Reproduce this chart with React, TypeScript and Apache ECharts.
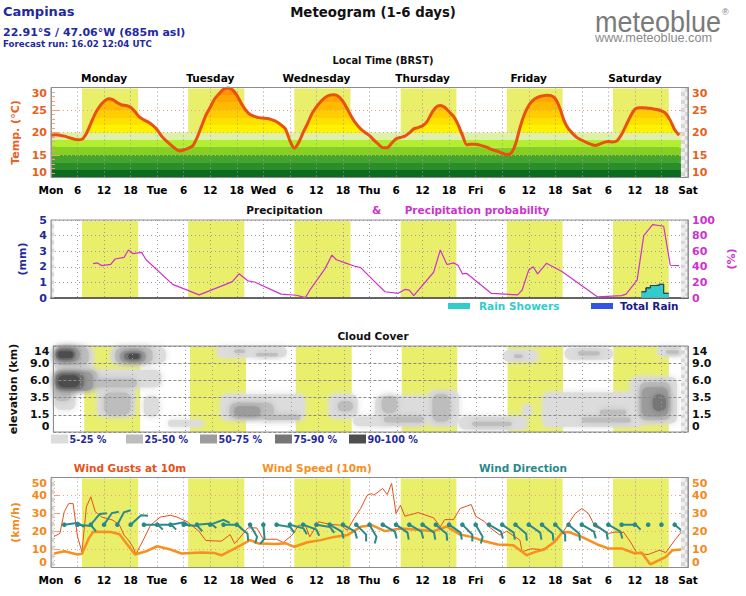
import React, { useEffect, useRef } from "react";
import * as echarts from "echarts";

// ---------------------------------------------------------------------------
// Time axis (hours since Monday 00:00 local time)
// ---------------------------------------------------------------------------
const DAY_TICKS = ["Mon", "Tue", "Wed", "Thu", "Fri", "Sat", "Sat"];
const DAY_NAMES = ["Monday", "Tuesday", "Wednesday", "Thursday", "Friday", "Saturday"];
const SUNRISE = [7.0, 7.0, 7.0, 7.05, 7.05, 7.05];
const SUNSET = [19.7, 19.7, 19.7, 19.65, 19.65, 19.65];
const NO_FORECAST_TAIL = [142.4, 144];
const NO_FORECAST_HEAD = [0, 0.7];

// ---------------------------------------------------------------------------
// Temperature (°C), hourly from hour 0
// ---------------------------------------------------------------------------
const TEMP_C = [
  19.4, 19.5, 19.4, 19.2, 18.9, 18.6, 18.4, 18.5, 19.8, 22.0, 24.2, 25.8, 26.9, 27.5, 27.3, 26.6,
  26.1, 26.0, 25.6, 24.6, 23.4, 22.8, 22.3, 21.6, 20.6, 19.2, 18.2, 17.3, 16.5, 15.9, 16.1, 16.5,
  17.0, 18.8, 21.3, 23.8, 25.6, 27.5, 28.6, 29.6, 29.9, 29.5, 28.3, 26.5, 25.0, 24.0, 23.6, 23.3,
  23.2, 23.1, 22.8, 22.4, 21.7, 20.8, 18.2, 16.5, 17.8, 20.0, 22.0, 24.2, 25.7, 26.9, 27.8, 28.3,
  28.4, 28.0, 26.9, 25.2, 23.4, 21.9, 20.8, 20.0, 19.3, 18.3, 17.4, 16.6, 16.6, 17.6, 18.6, 18.9,
  19.2, 19.9, 20.8, 21.1, 21.5, 22.4, 24.2, 25.6, 26.0, 25.6, 24.6, 23.6, 21.8, 19.4, 17.3, 17.4,
  17.4, 17.2, 16.9, 16.5, 16.1, 15.8, 15.4, 15.1, 15.4, 17.4, 21.0, 24.0, 26.0, 27.2, 27.8, 28.1,
  28.3, 28.2, 27.5, 25.5, 22.6, 20.8, 19.7, 18.8, 18.3, 17.8, 17.4, 17.1, 17.4, 17.8, 18.0, 17.9,
  18.2, 19.6, 21.6, 23.6, 25.2, 25.5, 25.5, 25.4, 25.3, 25.1, 24.8, 24.2, 22.7, 20.6, 19.4,
];
const TEMP_BAND_EDGES = [10, 11.67, 13.33, 15, 16.67, 18.33, 20, 21.67, 23.33, 25, 26.67, 28.33, 30];

// ---------------------------------------------------------------------------
// Precipitation
// ---------------------------------------------------------------------------
const PROB_HOURS = [
  9.5, 10.5, 11.5, 13.5, 14.5, 16.5, 17.5, 18.5, 20.5, 21.5, 27.5, 33.5, 39.5, 41, 42.5, 44.5, 46,
  52, 55.5, 57.5, 58.5, 62, 63.5, 64.5, 66.5, 68.5, 70, 73, 75.5, 78.5, 80, 81, 82, 86.5, 88, 89.5,
  91, 92, 93, 94, 99.5, 105.5, 106.5, 108, 109, 110, 112, 115.5, 123.5, 129, 130, 132.5, 134, 136,
  138.5, 140, 142,
];
const PROB_PCT = [
  44, 45, 41.5, 43, 50, 52, 61.5, 57, 58.5, 49, 17.5, 4, 17.5, 21, 31, 22, 20.5,
  5, 3.5, 0.5, 10, 38, 55, 49, 45, 41, 39, 22, 8, 6, 11, 10, 3, 33, 61.5, 43,
  45, 42, 31, 31.5, 6, 4, 10, 36, 40, 31, 44.5, 34, 1.5, 3, 5, 23, 80, 94,
  92, 42, 41.5,
];
const RAIN_HOURS = [133.5, 134.5, 135.5, 136.5, 137.5, 138.5, 139.6];
const SHOWERS_MM = [0.4, 0.65, 0.8, 0.82, 0.88, 0.3, 0.3];
const TOTAL_RAIN_MM = [0.4, 0.65, 0.8, 0.82, 0.88, 0.3, 0.3];

// ---------------------------------------------------------------------------
// Cloud cover: [start h, end h, lower level, upper level, cover class 1..5]
// levels are index positions of 0 / 1.5 / 3.5 / 6 / 9 / 14 km
// ---------------------------------------------------------------------------
const CLOUD_LEVEL_LABELS = ["0", "1.5", "3.5", "6.0", "9.0", "14"];
const CLOUD_CLASSES = ["5-25 %", "25-50 %", "50-75 %", "75-90 %", "90-100 %"];
const CLOUD_CELLS: number[][] = [
  [0, 9, 3.6, 5, 1], [0, 24.5, 2.6, 3.6, 1], [0, 5, 1.3, 2.8, 1], [13, 25.5, 4.0, 5, 1],
  [10, 18.5, 0.9, 2.7, 1], [20.5, 24, 0.9, 2.1, 1], [26, 34, 0.3, 0.7, 1], [37, 53, 4.35, 5, 1],
  [38, 57, 0.7, 2.2, 1], [62.5, 69, 0.8, 2.2, 1], [68, 76, 0.35, 0.9, 1], [73, 85, 0.35, 2.1, 1],
  [85, 92, 0.35, 2.4, 1], [92, 107.5, 0.15, 0.9, 1], [102, 110, 4.1, 4.75, 1],
  [106.5, 108.5, 0.9, 1.6, 1], [111, 134, 0.3, 2.3, 1], [116, 127, 4.2, 4.9, 1],
  [131, 141.5, 0.5, 3.2, 1], [137, 143, 4.4, 4.95, 1],
  [0, 8, 3.9, 5, 2], [0, 10, 2.5, 3.6, 2], [0, 4, 1.8, 2.8, 2], [7, 19, 2.6, 3.1, 2],
  [14, 22.5, 4.0, 4.9, 2], [11.5, 17.5, 1.0, 2.3, 2], [41, 43.5, 4.6, 4.8, 2], [46, 51, 4.4, 4.6, 2],
  [40, 50, 0.8, 1.7, 2], [48, 56, 0.7, 1.0, 2], [64.5, 68, 1.2, 1.8, 2], [74.5, 78, 1.1, 2.1, 2],
  [75, 84, 0.55, 0.9, 2], [86, 90, 0.6, 2.2, 2], [95, 104, 0.35, 0.6, 2], [104.5, 106.5, 4.3, 4.5, 2],
  [120, 131, 0.55, 0.85, 2], [124, 130, 1.0, 1.3, 2], [119, 124, 4.45, 4.7, 2],
  [139, 142, 4.55, 4.75, 2], [133, 140, 0.7, 2.9, 2],
  [0.5, 6, 4.1, 4.9, 3], [0.5, 9, 2.4, 3.5, 3], [15, 21, 4.1, 4.7, 3], [41, 47, 0.9, 1.5, 3],
  [133.5, 139.5, 0.9, 2.6, 3],
  [0.5, 5, 4.2, 4.8, 4], [0.5, 7, 2.5, 3.4, 4], [16, 20, 4.2, 4.6, 4], [136, 139, 1.2, 2.2, 4],
  [1, 4.5, 4.3, 4.7, 5], [1, 6, 2.6, 3.3, 5], [17, 19.5, 4.25, 4.55, 5],
];

// ---------------------------------------------------------------------------
// Wind (km/h)
// ---------------------------------------------------------------------------
const GUST_HOURS = [
  0.5, 2, 3, 4, 5, 6, 7, 8, 9, 10, 11.5, 14, 15.5, 16.5, 17.5, 18.5, 19.2, 21, 22.5, 24.7, 27, 28.5,
  30.8, 33.5, 35, 38.5, 40.5, 41.5, 42.5, 44.5, 46.5, 48, 51, 52.5, 54.5, 56, 57.5, 58.5, 60.5, 63,
  65.5, 67, 68.5, 70, 71.5, 72.5, 73, 75, 76, 77, 78, 79, 80, 83, 86.5, 88, 89, 91, 92.5, 95, 96, 98,
  99, 101.5, 103, 106, 106.5, 108.5, 111, 113, 115.5, 117, 118.5, 120, 121.5, 123, 124, 126, 127.5,
  129.5, 131, 132.5, 135, 137.5, 139, 141, 142.5,
];
const GUST_KMH = [
  17, 18.9, 31, 35.5, 35.5, 17, 8.7, 33.7, 39.3, 31, 28, 26.3, 23.5, 18, 15.2, 11.5, 7.4, 16, 23.5, 28, 29, 28,
  25.4, 20, 15, 14.6, 18.3, 13.3, 16, 22, 22, 15.7, 15.7, 13.9, 18, 23.5, 23.5, 17, 25.4, 24,
  23.5, 20.7, 27.2, 32.8, 40.2, 41, 40.2, 43.9, 40.5, 46.7, 30, 34.6, 28.5, 30.5, 27.6, 22.6, 26.6, 26.6, 32.8, 35, 28.5, 25.5,
  22.6, 18, 20.2, 15.2, 8.7, 10.4, 10, 12.4, 18.9, 24.4, 30, 32.8, 30, 22.6, 21.7, 18.9, 19.7,
  19.4, 14.2, 7.8, 7.2, 9.6, 8.3, 15.2, 19.7,
];
const SPEED_HOURS = [
  0.5, 3, 6, 7, 8.5, 9.5, 13.5, 15.5, 17, 19, 21.5, 24, 27, 29.5, 34, 37, 38.5, 41.5, 43, 45, 47, 51,
  53, 55, 58, 61, 64, 67, 70, 72.5, 75.5, 79, 83, 86.5, 89.5, 92.5, 95, 98, 101, 104.5, 106.5, 107.5,
  109.5, 111.5, 114, 115.5, 117, 120, 123.5, 126, 129, 132, 133.5, 135.5, 137, 139, 140.5, 142.5,
];
const SPEED_KMH = [
  7.6, 9, 7.2, 7.6, 16, 19.8, 19.7, 18.5, 13.5, 7.2, 9, 11.8, 10, 7.8, 8.3, 8, 6.8, 10.5, 12.5, 15.2, 13.3, 13,
  13.5, 11.5, 14, 15.2, 17, 18, 22.6, 23.5, 20.2, 21.7, 21, 20.2, 22.8, 18.3, 17, 14.6, 12.8, 12.4, 8.7, 6.8,
  8.7, 10, 14.6, 19.4, 19.7, 17, 12.8, 10.6, 10.6, 7.8, 8.3, 1.7, 3.5, 5.9, 9.6, 10,
];
// direction arrows every 3 h; bearing the arrow points to (deg), null = calm
const WIND_DIR_HOURS = [
  3, 6, 9, 12, 15, 18, 21, 24, 27, 30, 33, 36, 39, 42, 45, 48, 51, 54, 57, 60, 63, 66, 69, 72,
  75, 78, 81, 84, 87, 90, 93, 96, 99, 102, 105, 108, 111, 114, 117, 120, 123, 126, 129, 132, 135, 138, 141,
];
const WIND_DIR_BEARING: (number | null)[] = [
  82, 95, 40, 34, 28, 48, 90, 90, 80, 95, 85, 70, 90, 130, 150, 175, 100, 105, 110, 100, 120, 120, 135, 150,
  120, 125, 120, 125, 130, 125, 135, 150, 120, 125, 130, 125, 130, 135, 130, 120, 125, 120, 90, null, null, null, 130,
];

// ---------------------------------------------------------------------------
// Styling
// ---------------------------------------------------------------------------
const FONT = '"DejaVu Sans", Verdana, sans-serif';
const DAY_YELLOW = "#e9ef6b";
const TEMP_COLORS = [
  "#0d6b20", "#2a8c2a", "#44a42e", "#86d024", "#b4ee32", "#ddf2a8",
  "#fff200", "#ffe100", "#ffcd00", "#ffba00", "#ffa600", "#ff9200", "#ff8000",
];
const TEMP_LINE = "#e8520e";
const TEMP_AXIS = "#e8601c";
const SALMON = "#f0a080";
const NAVY = "#1f2a9c";
const MAGENTA = "#cc33cc";
const CYAN = "#33cccc";
const RAIN_BLUE = "#3552e0";
const CLOUD_COLORS = ["#dcdcdc", "#bdbdbd", "#9c9c9c", "#767676", "#4e4e4e"];
const GUST_COLOR = "#e8501a";
const SPEED_COLOR = "#f7901e";
const WIND_AXIS = "#f28a1c";
const TEAL = "#2a8a8a";
const WIND_ARROW_LEVEL = 23.8;

const GRID_LEFT = 51;
const GRID_WIDTH = 637;
const PANELS = [
  { top: 87.5, height: 90 },
  { top: 220, height: 78 },
  { top: 346, height: 86 },
  { top: 477.5, height: 90 },
];

const boldText = (size: number, color: string) => ({
  color,
  fontWeight: "bold" as const,
  fontSize: size,
  fontFamily: FONT,
});

function timeAxis(gridIndex: number, showLabels: boolean) {
  return {
    type: "value",
    gridIndex,
    min: 0,
    max: 144,
    interval: 6,
    z: 3,
    axisLine: { show: gridIndex === 1, onZero: false, lineStyle: { color: "#000", width: 1.5 } },
    axisTick: { show: false },
    axisLabel: {
      show: showLabels,
      margin: 7,
      formatter: (v: number) => (v % 24 === 0 ? DAY_TICKS[v / 24] : String(v % 24)),
      ...boldText(10.5, "#000"),
    },
    splitLine: { show: true, lineStyle: { color: "#9a9a9a", type: [1, 3] } },
  };
}

function valueAxis(opts: any) {
  const {
    gridIndex, min, max, interval, position, name, color, gap, grid, gridColor, gridType, formatter, ticks, tight,
  } = opts;
  return {
    type: "value",
    gridIndex,
    min,
    max,
    interval,
    position,
    z: 3,
    name: name || "",
    nameLocation: "middle",
    nameGap: gap || 30,
    nameRotate: 90,
    nameTextStyle: boldText(11, color),
    axisLine: { show: true, lineStyle: { color: "#999" } },
    axisTick: ticks
      ? { show: true, inside: true, length: 9, lineStyle: { color: SALMON } }
      : { show: false },
    minorTick: ticks
      ? { show: true, splitNumber: 5, length: 4, lineStyle: { color: SALMON } }
      : { show: false },
    axisLabel: {
      margin: 4,
      formatter,
      showMinLabel: true,
      showMaxLabel: true,
      ...(tight ? {} : { verticalAlignMinLabel: "bottom", verticalAlignMaxLabel: "top" }),
      ...boldText(11, color),
    },
    splitLine: grid
      ? { show: true, lineStyle: { color: gridColor, type: gridType || [1, 3] } }
      : { show: false },
  };
}

// yellow daylight bands
const dayBandItem = (params: any, api: any) => {
  const cs = params.coordSys;
  const x0 = Math.max(cs.x + 1, api.coord([api.value(0), 0])[0]);
  const x1 = Math.min(cs.x + cs.width - 1, api.coord([api.value(1), 0])[0]);
  return {
    type: "rect",
    shape: { x: x0, y: cs.y + 1, width: x1 - x0, height: cs.height - 1 },
    style: { fill: DAY_YELLOW },
  };
};

// grey checker pattern over hours without forecast
const checkerItem = (params: any, api: any) => {
  const cs = params.coordSys;
  const x0 = Math.max(cs.x + 0.5, api.coord([api.value(0), 0])[0]);
  const x1 = Math.min(cs.x + cs.width, api.coord([api.value(1), 0])[0]);
  const s = 4;
  const children: any[] = [];
  let r = 0;
  for (let yy = cs.y + 0.5; yy < cs.y + cs.height; yy += s, r++) {
    let c = 0;
    for (let xx = x0; xx < x1; xx += s, c++) {
      children.push({
        type: "rect",
        shape: { x: xx, y: yy, width: Math.min(s, x1 - xx), height: Math.min(s, cs.y + cs.height - yy) },
        style: { fill: (r + c) % 2 ? "#d6d6d6" : "#f0f0f0" },
      });
    }
  }
  return { type: "group", children };
};

// full-width colour bands of the cooler temperatures
const tempBandItem = (params: any, api: any) => {
  const cs = params.coordSys;
  const yTop = api.coord([0, api.value(1)])[1];
  const yBot = api.coord([0, api.value(0)])[1];
  return {
    type: "rect",
    shape: { x: cs.x + 1, y: yTop, width: cs.width - 2, height: yBot - yTop },
    style: { fill: TEMP_COLORS[api.value(2)] },
  };
};

const cloudItem = (params: any, api: any) => {
  const cs = params.coordSys;
  const p0 = api.coord([api.value(0), api.value(3)]);
  const p1 = api.coord([api.value(1), api.value(2)]);
  const x0 = Math.max(cs.x + 1, p0[0]);
  const x1 = Math.min(cs.x + cs.width - 1, p1[0]);
  const y0 = Math.max(cs.y + 1, p0[1]);
  const y1 = Math.min(cs.y + cs.height - 1, p1[1]);
  const fill = CLOUD_COLORS[api.value(4) - 1];
  return {
    type: "rect",
    shape: { x: x0, y: y0, width: x1 - x0, height: y1 - y0, r: 6 },
    style: { fill, shadowBlur: 7, shadowColor: fill },
  };
};

const windArrowItem = (params: any, api: any) => {
  const h = api.value(0);
  const bearing = api.value(1);
  const p = api.coord([h, WIND_ARROW_LEVEL]);
  const children: any[] = [
    { type: "circle", shape: { cx: p[0], cy: p[1], r: 2.3 }, style: { fill: TEAL } },
  ];
  if (bearing >= 0) {
    const th = ((90 - bearing) * Math.PI) / 180;
    const p1 = [p[0] + 14 * Math.cos(th), p[1] - 14 * Math.sin(th)];
    const th2 = th - Math.PI / 4;
    const p2 = [p1[0] + 7 * Math.cos(th2), p1[1] - 7 * Math.sin(th2)];
    children.push({
      type: "polyline",
      shape: { points: [p, p1, p2] },
      style: { stroke: TEAL, lineWidth: 2, fill: null },
    });
  }
  return { type: "group", children };
};

function buildOption() {
  const dayBands = SUNRISE.map((s, i) => [i * 24 + s, i * 24 + SUNSET[i]]);
  const yIdx = [0, 2, 4, 6];

  const series: any[] = [];
  // 0..3 daylight bands in each panel
  PANELS.forEach((_, g) => {
    series.push({
      type: "custom",
      xAxisIndex: g,
      yAxisIndex: yIdx[g],
      z: 1,
      silent: true,
      renderItem: dayBandItem,
      data: dayBands,
    });
  });
  // 4 cool temperature bands
  series.push({
    type: "custom",
    xAxisIndex: 0,
    yAxisIndex: 0,
    z: 1.5,
    silent: true,
    renderItem: tempBandItem,
    data: TEMP_BAND_EDGES.slice(0, 6).map((lo, i) => [lo, TEMP_BAND_EDGES[i + 1], i]),
  });
  // 5 temperature area coloured by value
  series.push({
    type: "line",
    xAxisIndex: 0,
    yAxisIndex: 0,
    z: 2,
    smooth: 0.25,
    symbol: "none",
    lineStyle: { width: 0 },
    areaStyle: { opacity: 1, origin: "start" },
    data: TEMP_C.map((t, h) => [h, t]),
  });
  // 6 temperature curve
  series.push({
    type: "line",
    xAxisIndex: 0,
    yAxisIndex: 0,
    z: 4,
    smooth: 0.25,
    symbol: "none",
    lineStyle: { width: 3, color: TEMP_LINE },
    data: TEMP_C.map((t, h) => [h, t]),
  });
  // precipitation
  series.push({
    type: "line",
    xAxisIndex: 1,
    yAxisIndex: 2,
    z: 4,
    step: "end",
    symbol: "none",
    lineStyle: { width: 1, color: "#333" },
    areaStyle: { color: RAIN_BLUE, opacity: 1 },
    data: RAIN_HOURS.map((h, i) => [h, TOTAL_RAIN_MM[i]]),
  });
  series.push({
    type: "line",
    xAxisIndex: 1,
    yAxisIndex: 2,
    z: 4,
    step: "end",
    symbol: "none",
    lineStyle: { width: 1, color: "#2a4a4a" },
    areaStyle: { color: CYAN, opacity: 1 },
    data: RAIN_HOURS.map((h, i) => [h, SHOWERS_MM[i]]),
  });
  series.push({
    type: "line",
    xAxisIndex: 1,
    yAxisIndex: 3,
    z: 4,
    symbol: "none",
    lineStyle: { width: 1.2, color: MAGENTA },
    data: PROB_HOURS.map((h, i) => [h, PROB_PCT[i]]),
  });
  // cloud cover
  series.push({
    type: "custom",
    xAxisIndex: 2,
    yAxisIndex: 4,
    z: 2,
    silent: true,
    renderItem: cloudItem,
    data: CLOUD_CELLS.slice().sort((a, b) => a[4] - b[4]),
  });
  // wind
  series.push({
    type: "line",
    xAxisIndex: 3,
    yAxisIndex: 6,
    z: 4,
    symbol: "none",
    lineStyle: { width: 1, color: GUST_COLOR },
    data: GUST_HOURS.map((h, i) => [h, GUST_KMH[i]]),
  });
  series.push({
    type: "line",
    xAxisIndex: 3,
    yAxisIndex: 6,
    z: 4,
    symbol: "none",
    lineStyle: { width: 2.5, color: SPEED_COLOR },
    data: SPEED_HOURS.map((h, i) => [h, SPEED_KMH[i]]),
  });
  series.push({
    type: "custom",
    xAxisIndex: 3,
    yAxisIndex: 6,
    z: 5,
    silent: true,
    renderItem: windArrowItem,
    data: WIND_DIR_HOURS.map((h, i) => [h, WIND_DIR_BEARING[i] ?? -1]),
  });
  // hours without forecast
  PANELS.forEach((_, g) => {
    const spans = g === 1 || g === 3 ? [NO_FORECAST_HEAD, NO_FORECAST_TAIL] : [NO_FORECAST_TAIL];
    series.push({
      type: "custom",
      xAxisIndex: g,
      yAxisIndex: yIdx[g],
      z: 6,
      silent: true,
      renderItem: checkerItem,
      data: spans,
    });
  });

  const visualPieces: any[] = [{ lt: TEMP_BAND_EDGES[0], color: TEMP_COLORS[0] }];
  for (let i = 0; i < TEMP_BAND_EDGES.length - 1; i++) {
    visualPieces.push({ gte: TEMP_BAND_EDGES[i], lt: TEMP_BAND_EDGES[i + 1], color: TEMP_COLORS[i] });
  }
  visualPieces.push({ gte: TEMP_BAND_EDGES[TEMP_BAND_EDGES.length - 1], color: TEMP_COLORS[12] });

  const text = (t: string, x: number, y: number, font: string, fill: string, align = "left") => ({
    type: "text",
    x,
    y,
    silent: true,
    style: { text: t, font, fill, align, verticalAlign: "middle" },
  });
  const bold = (px: number) => `bold ${px}px ${FONT}`;

  const cloudLegendX = [51, 126, 200, 275, 349];
  const graphic: any[] = [
    text("Campinas", 3, 11, bold(13), NAVY),
    text("22.91°S / 47.06°W (685m asl)", 3, 32, bold(11), NAVY),
    text("Forecast run: 16.02 12:04 UTC", 3, 44, bold(8.7), NAVY),
    text("Meteogram (1-6 days)", 373, 12, bold(13.3), "#111", "center"),
    {
      type: "group",
      x: 595,
      y: 21,
      scaleX: 0.9,
      silent: true,
      children: [
        { type: "text", style: { text: "meteoblue", font: '30px "Liberation Sans", Arial, sans-serif', fill: "#7a7a7a", verticalAlign: "middle" } },
      ],
    },
    text("®", 722, 12, '9px "Liberation Sans", Arial, sans-serif', "#7a7a7a"),
    text("www.meteoblue.com", 595, 37.5, '12.7px "Liberation Sans", Arial, sans-serif', "#8a8a8a"),
    text("Local Time (BRST)", 383, 60, bold(9.9), "#111", "center"),
    text("Precipitation", 284.5, 210, bold(10.5), "#111", "center"),
    text("&", 376.5, 210, bold(10.5), MAGENTA, "center"),
    text("Precipitation probability", 477, 210, bold(10.5), MAGENTA, "center"),
    { type: "rect", silent: true, shape: { x: 448, y: 303, width: 22, height: 6 }, style: { fill: CYAN } },
    text("Rain Showers", 479, 306, bold(10.5), CYAN),
    { type: "rect", silent: true, shape: { x: 591, y: 303, width: 22, height: 6 }, style: { fill: RAIN_BLUE } },
    text("Total Rain", 620, 306, bold(10.5), "#1a1a8c"),
    text("Cloud Cover", 373, 335.7, bold(10.5), "#111", "center"),
    ...CLOUD_CLASSES.flatMap((label, i) => [
      {
        type: "rect",
        silent: true,
        shape: { x: cloudLegendX[i], y: 434.5, width: 17, height: 9 },
        style: { fill: CLOUD_COLORS[i] },
      },
      text(label, cloudLegendX[i] + 18.5, 439, bold(9.6), NAVY),
    ]),
    text("Wind Gusts at 10m", 130, 467.7, bold(10.5), GUST_COLOR, "center"),
    text("Wind Speed (10m)", 317, 467.7, bold(10.5), SPEED_COLOR, "center"),
    text("Wind Direction", 523, 467.7, bold(10.5), TEAL, "center"),
  ];

  return {
    animation: false,
    backgroundColor: "#fff",
    grid: PANELS.map((p) => ({
      left: GRID_LEFT,
      width: GRID_WIDTH,
      top: p.top,
      height: p.height,
      show: true,
      z: 7,
      backgroundColor: "transparent",
      borderColor: "#8c8c8c",
      borderWidth: 1,
    })),
    xAxis: [
      timeAxis(0, true),
      timeAxis(1, false),
      timeAxis(2, false),
      timeAxis(3, true),
      {
        type: "category",
        gridIndex: 0,
        position: "top",
        data: DAY_NAMES,
        boundaryGap: true,
        axisLine: { show: false },
        axisTick: { show: false },
        splitLine: { show: false },
        axisLabel: { margin: 4, ...boldText(10.5, "#000") },
      },
    ],
    yAxis: [
      valueAxis({ gridIndex: 0, min: 10, max: 30, interval: 5, position: "left", name: "Temp. (°C)", color: TEMP_AXIS, gap: 30, grid: true, gridColor: SALMON, ticks: true }),
      valueAxis({ gridIndex: 0, min: 10, max: 30, interval: 5, position: "right", color: TEMP_AXIS, ticks: true }),
      valueAxis({ gridIndex: 1, min: 0, max: 5, interval: 1, position: "left", name: "(mm)", color: NAVY, gap: 21, grid: true, gridColor: "#9a9ac0", tight: true }),
      valueAxis({ gridIndex: 1, min: 0, max: 100, interval: 20, position: "right", name: "(%)", color: MAGENTA, gap: 31, tight: true }),
      valueAxis({ gridIndex: 2, min: 0, max: 5, interval: 1, position: "left", name: "elevation (km)", color: "#111", gap: 32, grid: true, gridColor: "#8a8a8a", gridType: [3, 2], formatter: (v: number) => CLOUD_LEVEL_LABELS[v] }),
      valueAxis({ gridIndex: 2, min: 0, max: 5, interval: 1, position: "right", color: "#111", formatter: (v: number) => CLOUD_LEVEL_LABELS[v] }),
      valueAxis({ gridIndex: 3, min: 0, max: 50, interval: 10, position: "left", name: "(km/h)", color: WIND_AXIS, gap: 30, grid: true, gridColor: SALMON, ticks: true }),
      valueAxis({ gridIndex: 3, min: 0, max: 50, interval: 10, position: "right", color: WIND_AXIS, ticks: true }),
    ],
    visualMap: [
      {
        show: false,
        type: "piecewise",
        seriesIndex: 5,
        dimension: 1,
        pieces: visualPieces,
      },
    ],
    series,
    graphic,
  };
}

export default function App() {
  const ref = useRef<HTMLDivElement>(null);
  useEffect(() => {
    const chart = echarts.init(ref.current!, null, { renderer: "svg" });
    chart.setOption(buildOption() as any);
    return () => chart.dispose();
  }, []);
  return (
    <div
      ref={ref}
      style={{ position: "fixed", left: 0, top: 0, width: 746, height: 596, background: "#fff" }}
    />
  );
}
